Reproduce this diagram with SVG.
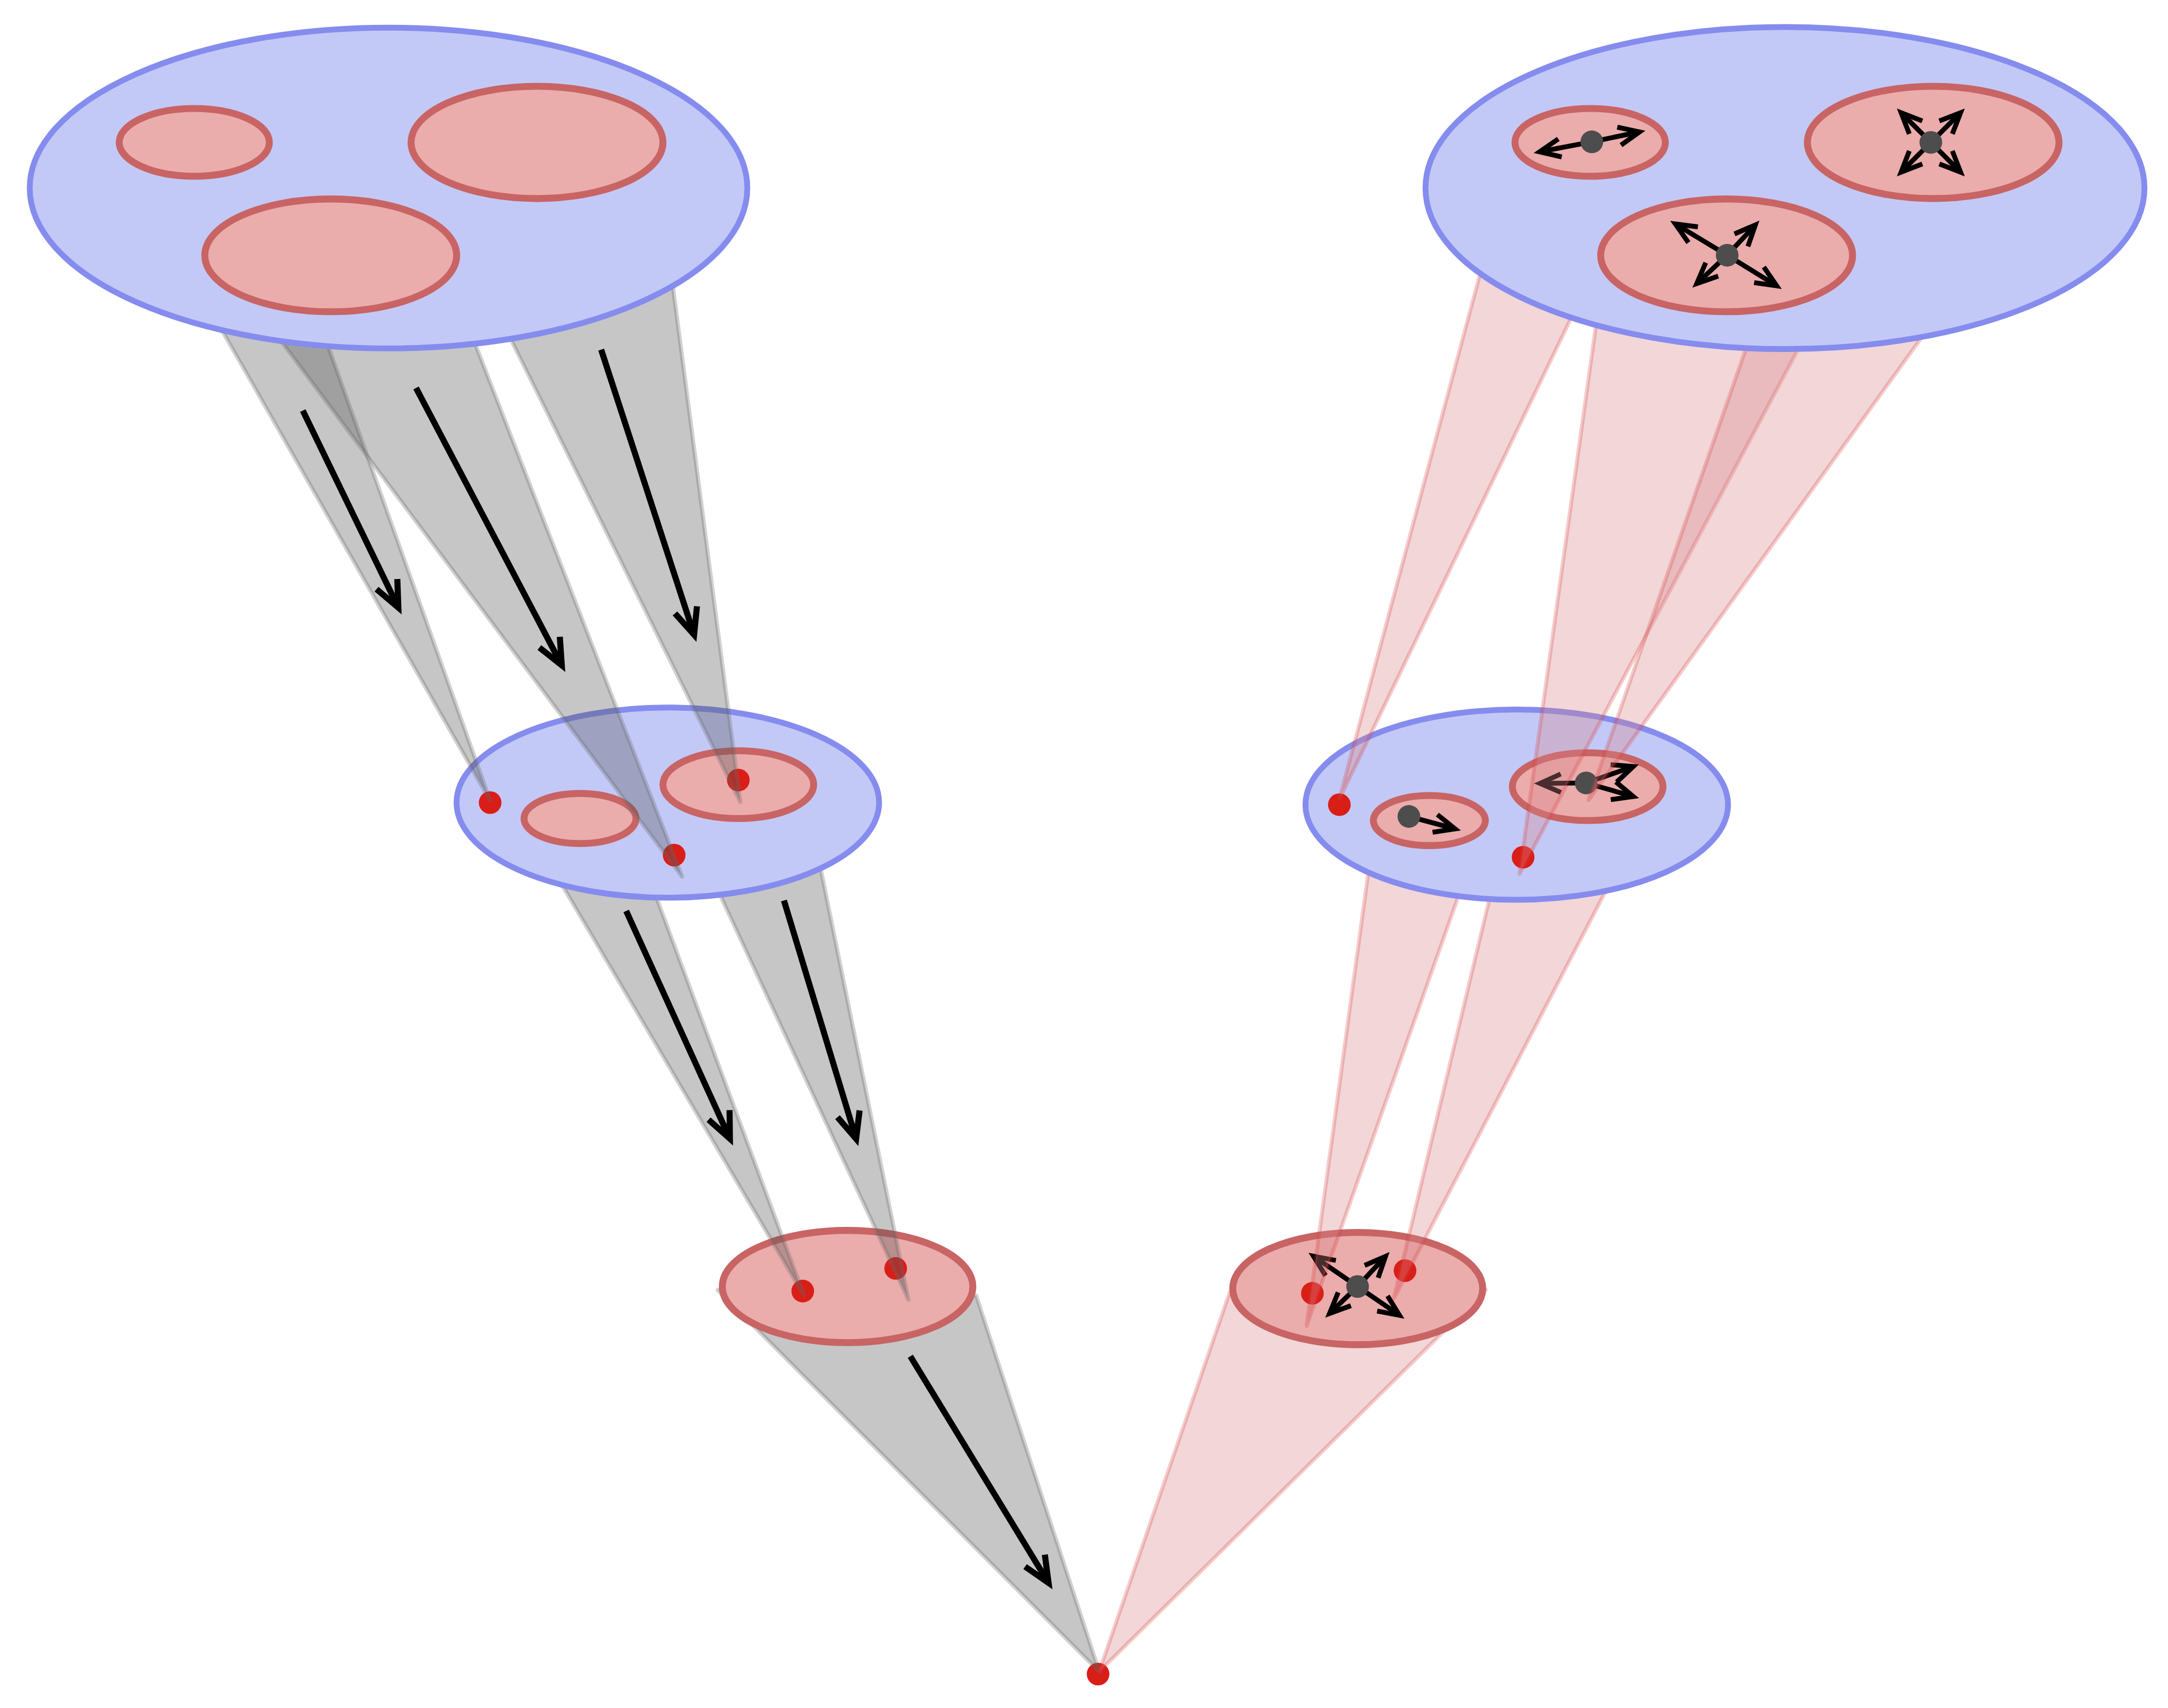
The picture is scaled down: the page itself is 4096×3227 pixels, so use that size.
<svg xmlns="http://www.w3.org/2000/svg" width="4096" height="3227" viewBox="0 0 4096 3227">
<style>
.big{fill:#c3c9f7;stroke:#858cee;stroke-width:4.2}
.pink{fill:#ebacac;stroke:#c86464;stroke-width:5}
.rdot{fill:#d91e18}
.kdot{fill:#4d4d4d}
.gcone{fill:#545454;fill-opacity:0.333;stroke:#6b6b6b;stroke-opacity:0.3;stroke-width:3;stroke-linejoin:round}
.pcone{fill:#d8848a;fill-opacity:0.333;stroke:#d83a3a;stroke-opacity:0.26;stroke-width:2.8;stroke-linejoin:round}
.arr{fill:none;stroke:#000;stroke-width:4.4;marker-end:url(#ah)}
.sarr{fill:none;stroke:#000;stroke-width:3.5;marker-end:url(#ah)}
</style>
<defs>
<marker id="ah" markerUnits="strokeWidth" markerWidth="10" markerHeight="10" refX="0" refY="0" orient="auto" style="overflow:visible">
<path d="M-4.3,-1.9 L0,0 L-4.3,1.9" fill="none" stroke="#000" stroke-width="1" stroke-linejoin="miter" stroke-miterlimit="10"/>
</marker>
</defs>
<rect width="4096" height="3227" fill="#fff"/>
<g transform="scale(2.6122)">
  <g id="bottom-point"><circle class="rdot" cx="794.2" cy="1210.8" r="8.2"/></g>
  <g id="connectors-level3" class="connectors">
    <polygon class="gcone" points="795,1209 519,933 706,937"/>
    <polygon class="pcone" points="795,1209 889.4,934.7 1074.7,932.9"/>
    <path class="arr" d="M658.4,981 L758.4,1144.9"/>
  </g>
  <g id="left-level2">
    <ellipse class="pink" cx="613" cy="930.5" rx="90.6" ry="40.6"/>
    <circle class="rdot" cx="580.6" cy="933.8" r="8.2"/>
    <circle class="rdot" cx="647.8" cy="917.4" r="8.2"/>
  </g>
  <g id="right-level2">
    <ellipse class="pink" cx="982" cy="932" rx="90.4" ry="40.6"/>
    <circle class="rdot" cx="949.2" cy="935.4" r="8.2"/>
    <circle class="rdot" cx="1016.2" cy="919" r="8.2"/>
    <path class="sarr" d="M981.9,930.5 L950,908.6"/>
    <path class="sarr" d="M981.9,930.5 L1002.1,908.7"/>
    <path class="sarr" d="M981.9,930.5 L961.6,950"/>
    <path class="sarr" d="M981.9,930.5 L1012.2,951.3"/>
    <circle class="kdot" cx="981.9" cy="930.5" r="8.2"/>
  </g>
  <g id="connectors-level2" class="connectors">
    <polygon class="gcone" points="581.5,937 381.1,597 452.9,590"/>
    <polygon class="gcone" points="657,940 486.2,573 580.9,566"/>
    <polygon class="pcone" points="945,959 994.8,593 1075.4,590"/>
    <polygon class="pcone" points="1008,939.5 1096.4,570 1202.7,565"/>
    <path class="arr" d="M452.9,658.9 L527.9,823.6"/>
    <path class="arr" d="M567,651.3 L619.2,823.7"/>
  </g>
  <g id="left-level1">
    <ellipse class="big" cx="483" cy="580.5" rx="152.8" ry="68.8"/>
    <ellipse class="pink" cx="419.5" cy="592" rx="40.5" ry="18.1"/>
    <ellipse class="pink" cx="534" cy="567.5" rx="54.5" ry="24.5"/>
    <circle class="rdot" cx="354.5" cy="580.5" r="8.2"/>
    <circle class="rdot" cx="534" cy="564.2" r="8.2"/>
    <circle class="rdot" cx="487.6" cy="618.5" r="8.2"/>
  </g>
  <g id="right-level1">
    <ellipse class="big" cx="1097" cy="582" rx="152.8" ry="68.8"/>
    <ellipse class="pink" cx="1033.8" cy="593.5" rx="40.5" ry="18.1"/>
    <ellipse class="pink" cx="1148.3" cy="569" rx="54.5" ry="24.5"/>
    <circle class="rdot" cx="968.7" cy="582" r="8.2"/>
    <circle class="rdot" cx="1101.6" cy="620" r="8.2"/>
    <path class="sarr" d="M1019,590.5 L1052.4,599.5"/>
    <circle class="kdot" cx="1019" cy="590.5" r="8.2"/>
    <path class="sarr" d="M1147.2,566.3 L1113.8,566.6"/>
    <path class="sarr" d="M1147.2,566.3 L1181.3,554.4"/>
    <path class="sarr" d="M1147.2,566.3 L1181.3,576.1"/>
    <circle class="kdot" cx="1147.2" cy="566.3" r="8.2"/>
  </g>
  <g id="connectors-level1" class="connectors">
    <polygon class="gcone" points="354.5,579 87,110 183.7,100"/>
    <polygon class="gcone" points="493.3,634 166.8,198 317,180"/>
    <polygon class="gcone" points="535.4,580 302.3,110 472.7,100"/>
    <polygon class="pcone" points="968.7,578 1095.4,105 1199,100"/>
    <polygon class="pcone" points="1099,632 1160.6,190 1339.1,180"/>
    <polygon class="pcone" points="1149,578.7 1312.3,110 1493.6,100"/>
    <path class="arr" d="M219,297 L288.1,439.5"/>
    <path class="arr" d="M300.9,280.6 L406.3,481.2"/>
    <path class="arr" d="M434.8,252.9 L502,459.1"/>
  </g>
  <g id="left-level0">
    <ellipse class="big" cx="281" cy="136" rx="259.5" ry="116"/>
    <ellipse class="pink" cx="140.5" cy="103" rx="54.3" ry="24.5"/>
    <ellipse class="pink" cx="388.4" cy="103" rx="91.1" ry="40.6"/>
    <ellipse class="pink" cx="239.2" cy="184.7" rx="91.1" ry="40.8"/>
  </g>
  <g id="right-level0">
    <ellipse class="big" cx="1291" cy="136" rx="260" ry="116.5"/>
    <ellipse class="pink" cx="1150.1" cy="103" rx="54.4" ry="24.5"/>
    <ellipse class="pink" cx="1398.2" cy="103" rx="91" ry="40.6"/>
    <ellipse class="pink" cx="1248.8" cy="184.7" rx="91.1" ry="40.8"/>
    <path class="sarr" d="M1151.3,102.6 L1185.8,95.4"/>
    <path class="sarr" d="M1151.3,102.6 L1113.5,109.8"/>
    <circle class="kdot" cx="1151.3" cy="102.6" r="8.2"/>
    <path class="sarr" d="M1396.5,103 L1375,81.5"/>
    <path class="sarr" d="M1396.5,103 L1418,81.5"/>
    <path class="sarr" d="M1396.5,103 L1375,124.5"/>
    <path class="sarr" d="M1396.5,103 L1418,124.5"/>
    <circle class="kdot" cx="1396.5" cy="103" r="8.2"/>
    <path class="sarr" d="M1249.2,184.6 L1211.7,162"/>
    <path class="sarr" d="M1249.2,184.6 L1269.6,162.7"/>
    <path class="sarr" d="M1249.2,184.6 L1227.2,205.1"/>
    <path class="sarr" d="M1249.2,184.6 L1285,206.7"/>
    <circle class="kdot" cx="1249.2" cy="184.6" r="8.2"/>
  </g>
</g>
</svg>
